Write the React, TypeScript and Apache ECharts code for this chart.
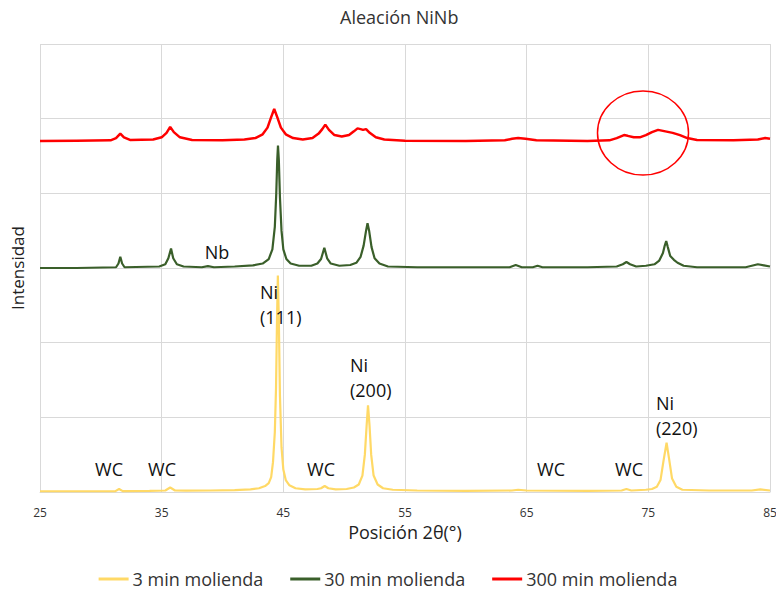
import React, { useEffect, useRef } from "react";
import * as echarts from "echarts";

const chartTitle = "Aleación NiNb";
const xName = "Posición 2θ(°)";
const yName = "Intensidad";
const seriesNames = ["3 min molienda", "30 min molienda", "300 min molienda"];
const seriesColors = ["#FFD966", "#3A5F2A", "#FF0000"];

// 3 min molienda
const min3: [number, number][] = [
  [25, 0.01], [28, 0.01], [31.2, 0.012], [31.5, 0.04], [31.8, 0.012], [34, 0.015],
  [35.3, 0.02], [35.7, 0.06], [36.1, 0.02], [37, 0.018], [39, 0.02], [41, 0.025],
  [42.3, 0.035], [43.0, 0.05], [43.5, 0.08], [43.8, 0.12], [44.0, 0.2], [44.15, 0.4],
  [44.3, 0.8], [44.4, 1.4], [44.48, 2.3], [44.55, 2.9], [44.63, 2.3], [44.72, 1.3],
  [44.85, 0.6], [45.0, 0.3], [45.2, 0.16], [45.5, 0.09], [46.0, 0.05], [46.8, 0.035],
  [47.8, 0.04], [48.1, 0.05], [48.4, 0.08], [48.7, 0.05], [49.3, 0.035], [50.2, 0.04],
  [50.8, 0.06], [51.2, 0.1], [51.5, 0.22], [51.7, 0.5], [51.85, 0.9], [51.96, 1.16],
  [52.08, 0.9], [52.22, 0.5], [52.42, 0.22], [52.75, 0.1], [53.2, 0.05], [54, 0.03],
  [56, 0.02], [60, 0.015], [63.8, 0.02], [64.3, 0.03], [65, 0.02], [70, 0.015],
  [72.8, 0.02], [73.2, 0.04], [73.6, 0.02], [74.8, 0.03], [75.3, 0.04], [75.7, 0.07],
  [76.0, 0.16], [76.25, 0.42], [76.5, 0.66], [76.7, 0.45], [76.95, 0.18], [77.3, 0.07],
  [77.8, 0.03], [80, 0.02], [83.5, 0.02], [84.2, 0.035], [85, 0.02],
];

// 30 min molienda
const min30: [number, number][] = [
  [25, 3.0], [28, 3.0], [31.25, 3.01], [31.45, 3.06], [31.6, 3.15], [31.75, 3.06],
  [31.95, 3.01], [34.8, 3.02], [35.3, 3.05], [35.55, 3.13], [35.77, 3.26], [35.95, 3.13],
  [36.25, 3.05], [36.8, 3.02], [38.3, 3.01], [38.8, 3.025], [39.3, 3.01], [41, 3.02],
  [42.5, 3.035], [43.3, 3.06], [43.8, 3.12], [44.1, 3.25], [44.3, 3.55], [44.42, 4.0],
  [44.5, 4.45], [44.56, 4.64], [44.63, 4.45], [44.72, 3.95], [44.85, 3.5], [45.0, 3.25],
  [45.25, 3.12], [45.6, 3.06], [46.3, 3.03], [47.3, 3.03], [47.8, 3.06], [48.1, 3.12],
  [48.37, 3.27], [48.6, 3.13], [48.9, 3.06], [49.6, 3.03], [50.5, 3.04], [51.0, 3.07],
  [51.35, 3.15], [51.6, 3.3], [51.8, 3.5], [51.92, 3.6], [52.05, 3.5], [52.25, 3.28],
  [52.5, 3.13], [52.9, 3.06], [53.6, 3.02], [56, 3.01], [60, 3.01], [63.6, 3.01],
  [64.1, 3.04], [64.6, 3.01], [65.5, 3.01], [65.9, 3.03], [66.3, 3.01], [70, 3.01],
  [72.4, 3.02], [72.9, 3.05], [73.2, 3.08], [73.5, 3.05], [74.0, 3.02], [74.8, 3.03],
  [75.5, 3.05], [75.9, 3.1], [76.2, 3.2], [76.35, 3.3], [76.47, 3.36], [76.6, 3.28],
  [76.8, 3.16], [77.1, 3.11], [77.4, 3.07], [77.9, 3.03], [79, 3.01], [83, 3.01],
  [83.5, 3.03], [84.0, 3.05], [84.5, 3.035], [85, 3.02],
];

// 300 min molienda
const min300: [number, number][] = [
  [25, 4.7], [28, 4.705], [30.8, 4.71], [31.25, 4.74], [31.6, 4.8], [31.9, 4.75],
  [32.4, 4.715], [34.3, 4.72], [35.0, 4.75], [35.4, 4.81], [35.7, 4.89], [36.0, 4.82],
  [36.5, 4.75], [37.5, 4.715], [40, 4.71], [41.8, 4.72], [42.7, 4.74], [43.3, 4.79],
  [43.7, 4.88], [44.0, 5.02], [44.25, 5.13], [44.5, 5.02], [44.8, 4.88], [45.2, 4.79],
  [45.8, 4.74], [46.6, 4.72], [47.4, 4.74], [47.9, 4.8], [48.2, 4.86], [48.45, 4.92],
  [48.75, 4.85], [49.2, 4.78], [49.8, 4.76], [50.4, 4.78], [50.8, 4.83], [51.1, 4.87],
  [51.35, 4.86], [51.55, 4.85], [51.8, 4.86], [52.1, 4.81], [52.6, 4.75], [53.3, 4.72],
  [55, 4.705], [60, 4.7], [63.2, 4.71], [63.8, 4.73], [64.3, 4.74], [64.9, 4.73],
  [65.8, 4.71], [70, 4.7], [71.8, 4.71], [72.4, 4.74], [73.0, 4.78], [73.3, 4.77],
  [73.8, 4.75], [74.3, 4.75], [74.8, 4.78], [75.3, 4.82], [75.8, 4.85], [76.4, 4.83],
  [77.0, 4.81], [77.6, 4.78], [78.2, 4.74], [79, 4.715], [82, 4.71], [84.0, 4.72],
  [84.6, 4.74], [85, 4.73],
];

const xTicks = [25, 35, 45, 55, 65, 75, 85];
const peakLabels = ["Nb", "Ni\n(111)", "Ni\n(200)", "Ni\n(220)", "WC", "WC", "WC", "WC", "WC"];

export default function App() {
  const ref = useRef<HTMLDivElement>(null);
  useEffect(() => {
    if (!ref.current) return;
    const chart = echarts.init(ref.current, undefined, { renderer: "svg" });
    const font = "'Open Sans', 'Noto Sans', sans-serif";
    const labelPos: [number, number][] = [
      [217, 252], [260, 279], [350, 352], [656, 390],
      [109, 469], [162, 469], [321, 469], [551, 469], [629, 469],
    ];
    const graphics: any[] = peakLabels.map((t, i) => {
      const multi = t.includes("\n");
      return {
        type: "text",
        x: labelPos[i][0],
        y: labelPos[i][1],
        style: {
          text: t,
          font: `18px ${font}`,
          fill: "#111",
          lineHeight: 25,
          textAlign: multi ? "left" : "center",
          textVerticalAlign: multi ? "top" : "middle",
        },
        z: 10,
      };
    });
    graphics.push({
      type: "ellipse",
      shape: { cx: 643, cy: 133, rx: 45.5, ry: 42 },
      style: { fill: "none", stroke: "#FF0000", lineWidth: 1.5 },
      z: 10,
    });
    chart.setOption({
      animation: false,
      backgroundColor: "#fff",
      textStyle: { fontFamily: font },
      title: {
        text: chartTitle,
        left: 335,
        top: 3,
        textStyle: { fontSize: 18, fontWeight: "normal", color: "#333", fontFamily: font },
      },
      grid: { left: 40, right: 6, top: 44, bottom: 101, containLabel: false, outerBoundsMode: "none" },
      legend: {
        data: seriesNames,
        top: 569,
        left: "center",
        padding: 0,
        icon: "rect",
        itemWidth: 30,
        itemHeight: 3,
        itemGap: 27,
        textStyle: { fontSize: 18, lineHeight: 20, color: "#333", fontFamily: font, padding: [0, 0, 0, -1] },
      },
      xAxis: {
        type: "value",
        min: xTicks[0],
        max: xTicks[xTicks.length - 1],
        interval: 10,
        name: xName,
        nameLocation: "middle",
        nameGap: 31,
        nameTextStyle: { fontSize: 18, color: "#222", fontFamily: font },
        axisLine: { show: true, lineStyle: { color: "#D9D9D9" } },
        axisTick: { show: false },
        axisLabel: { fontSize: 12, color: "#333", margin: 14, fontFamily: font },
        splitLine: { show: true, lineStyle: { color: "#D9D9D9" } },
      },
      yAxis: {
        type: "value",
        min: 0,
        max: 6,
        interval: 1,
        name: yName,
        nameLocation: "middle",
        nameGap: 14,
        nameTextStyle: { fontSize: 17, color: "#222", fontFamily: font },
        axisLine: { show: false },
        axisTick: { show: false },
        axisLabel: { show: false },
        splitLine: { show: true, lineStyle: { color: "#D9D9D9" } },
      },
      series: [min3, min30, min300].map((d, i) => ({
        name: seriesNames[i],
        type: "line",
        data: d,
        showSymbol: false,
        symbol: "none",
        lineStyle: { color: seriesColors[i], width: i === 2 ? 2.5 : 2.2 },
        itemStyle: { color: seriesColors[i] },
        z: 2 + i,
      })),
      graphic: graphics,
    });
    return () => chart.dispose();
  }, []);
  return <div ref={ref} style={{ width: 776, height: 593, position: "absolute", left: 0, top: 0 }} />;
}
